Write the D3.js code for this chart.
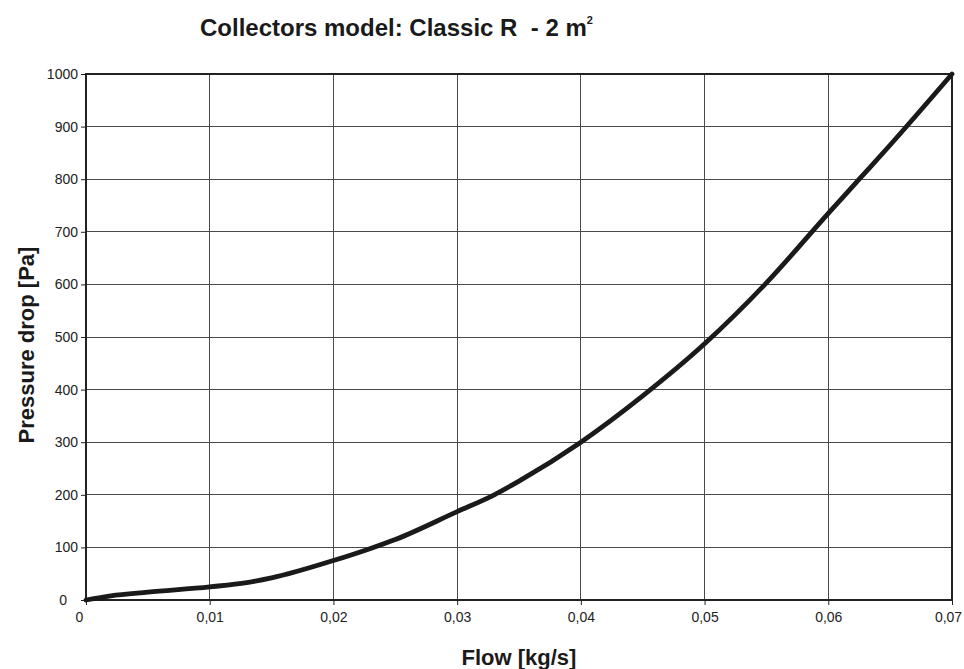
<!DOCTYPE html>
<html>
<head>
<meta charset="utf-8">
<script src="https://cdn.jsdelivr.net/npm/d3@7"></script>
<style>
  body { margin: 0; background: #fff; }
  svg { display: block; font-family: "Liberation Sans", Arial, sans-serif; }
</style>
</head>
<body>
<svg id="chart" width="964" height="669"></svg>
<script>
// data
const flow = [0, 0.002, 0.005, 0.01, 0.013, 0.015, 0.02, 0.023, 0.025, 0.03, 0.033, 0.035, 0.04, 0.045, 0.05, 0.055, 0.06, 0.0625, 0.065, 0.07];
const pressure = [0, 8, 15, 25, 33, 42, 75, 98, 115, 168, 200, 226, 300, 388, 487, 603, 735, 800, 865, 1000];
const xTicks = [0, 0.01, 0.02, 0.03, 0.04, 0.05, 0.06, 0.07];
const yTicks = [0, 100, 200, 300, 400, 500, 600, 700, 800, 900, 1000];

const margin = { left: 86, right: 12, top: 74, bottom: 69 };
const width = 964, height = 669;

const svg = d3.select("#chart");

const x = d3.scaleLinear().domain([0, 0.07]).range([margin.left, width - margin.right]);
const y = d3.scaleLinear().domain([0, 1000]).range([height - margin.bottom, margin.top]);

const fmtX = d => d === 0 ? "0" : d3.format(".2f")(d).replace(".", ",");

// grid
svg.append("g")
  .selectAll("line")
  .data(xTicks.slice(1, -1))
  .join("line")
  .attr("x1", d => x(d)).attr("x2", d => x(d))
  .attr("y1", y(0)).attr("y2", y(1000))
  .attr("stroke", "#4a4a4a").attr("stroke-width", 1).attr("shape-rendering", "crispEdges");

svg.append("g")
  .selectAll("line")
  .data(yTicks.slice(1, -1))
  .join("line")
  .attr("x1", x(0)).attr("x2", x(0.07))
  .attr("y1", d => y(d)).attr("y2", d => y(d))
  .attr("stroke", "#4a4a4a").attr("stroke-width", 1).attr("shape-rendering", "crispEdges");

// frame
svg.append("rect")
  .attr("x", x(0)).attr("y", y(1000))
  .attr("width", x(0.07) - x(0)).attr("height", y(0) - y(1000))
  .attr("fill", "none").attr("stroke", "#222").attr("stroke-width", 1.3)
  .attr("shape-rendering", "crispEdges");

// axes
const xAxis = svg.append("g")
  .attr("transform", `translate(0,${y(0)})`)
  .call(d3.axisBottom(x).tickValues(xTicks).tickFormat(fmtX).tickSize(5).tickPadding(7));
const yAxis = svg.append("g")
  .attr("transform", `translate(${x(0)},0)`)
  .call(d3.axisLeft(y).tickValues(yTicks).tickFormat(d3.format("d")).tickSize(5).tickPadding(3));

[xAxis, yAxis].forEach(g => {
  g.attr("font-size", null).attr("font-family", null);
  g.select(".domain").remove();
  g.selectAll("line").attr("stroke", "#222");
  g.selectAll("text")
    .style("font-family", "'Liberation Sans', Arial, sans-serif")
    .style("font-size", "14px").attr("fill", "#222");
});
// the zero labels sit a little away from the corner, the last one is pulled in
xAxis.selectAll(".tick text").filter(d => d === 0).attr("dx", -7);
xAxis.selectAll(".tick text").filter(d => d === 0.07).attr("dx", -4);
yAxis.selectAll(".tick text").filter(d => d === 0).attr("dx", -11);

// curve
const pts = flow.map((f, i) => [f, pressure[i]]);
svg.append("path")
  .datum(pts)
  .attr("d", d3.line().x(d => x(d[0])).y(d => y(d[1])).curve(d3.curveMonotoneX))
  .attr("fill", "none")
  .attr("stroke", "#1a1a1a")
  .attr("stroke-width", 4.8)
  .attr("stroke-linecap", "round");

// title
const title = svg.append("text")
  .attr("x", 200).attr("y", 36)
  .attr("xml:space", "preserve")
  .style("white-space", "pre")
  .attr("font-size", 24).attr("font-weight", "bold").attr("fill", "#1a1a1a");
title.append("tspan").text("Collectors model: Classic R  - 2 m");
title.append("tspan").attr("font-size", 11).attr("dy", -12).text("2");

// axis labels
svg.append("text")
  .attr("x", (x(0) + x(0.07)) / 2).attr("y", 665)
  .attr("text-anchor", "middle")
  .attr("font-size", 22).attr("font-weight", "bold").attr("fill", "#1a1a1a")
  .text("Flow [kg/s]");

svg.append("text")
  .attr("transform", "translate(34,345) rotate(-90)")
  .attr("text-anchor", "middle")
  .attr("font-size", 22).attr("font-weight", "bold").attr("fill", "#1a1a1a")
  .text("Pressure drop [Pa]");
</script>
</body>
</html>
